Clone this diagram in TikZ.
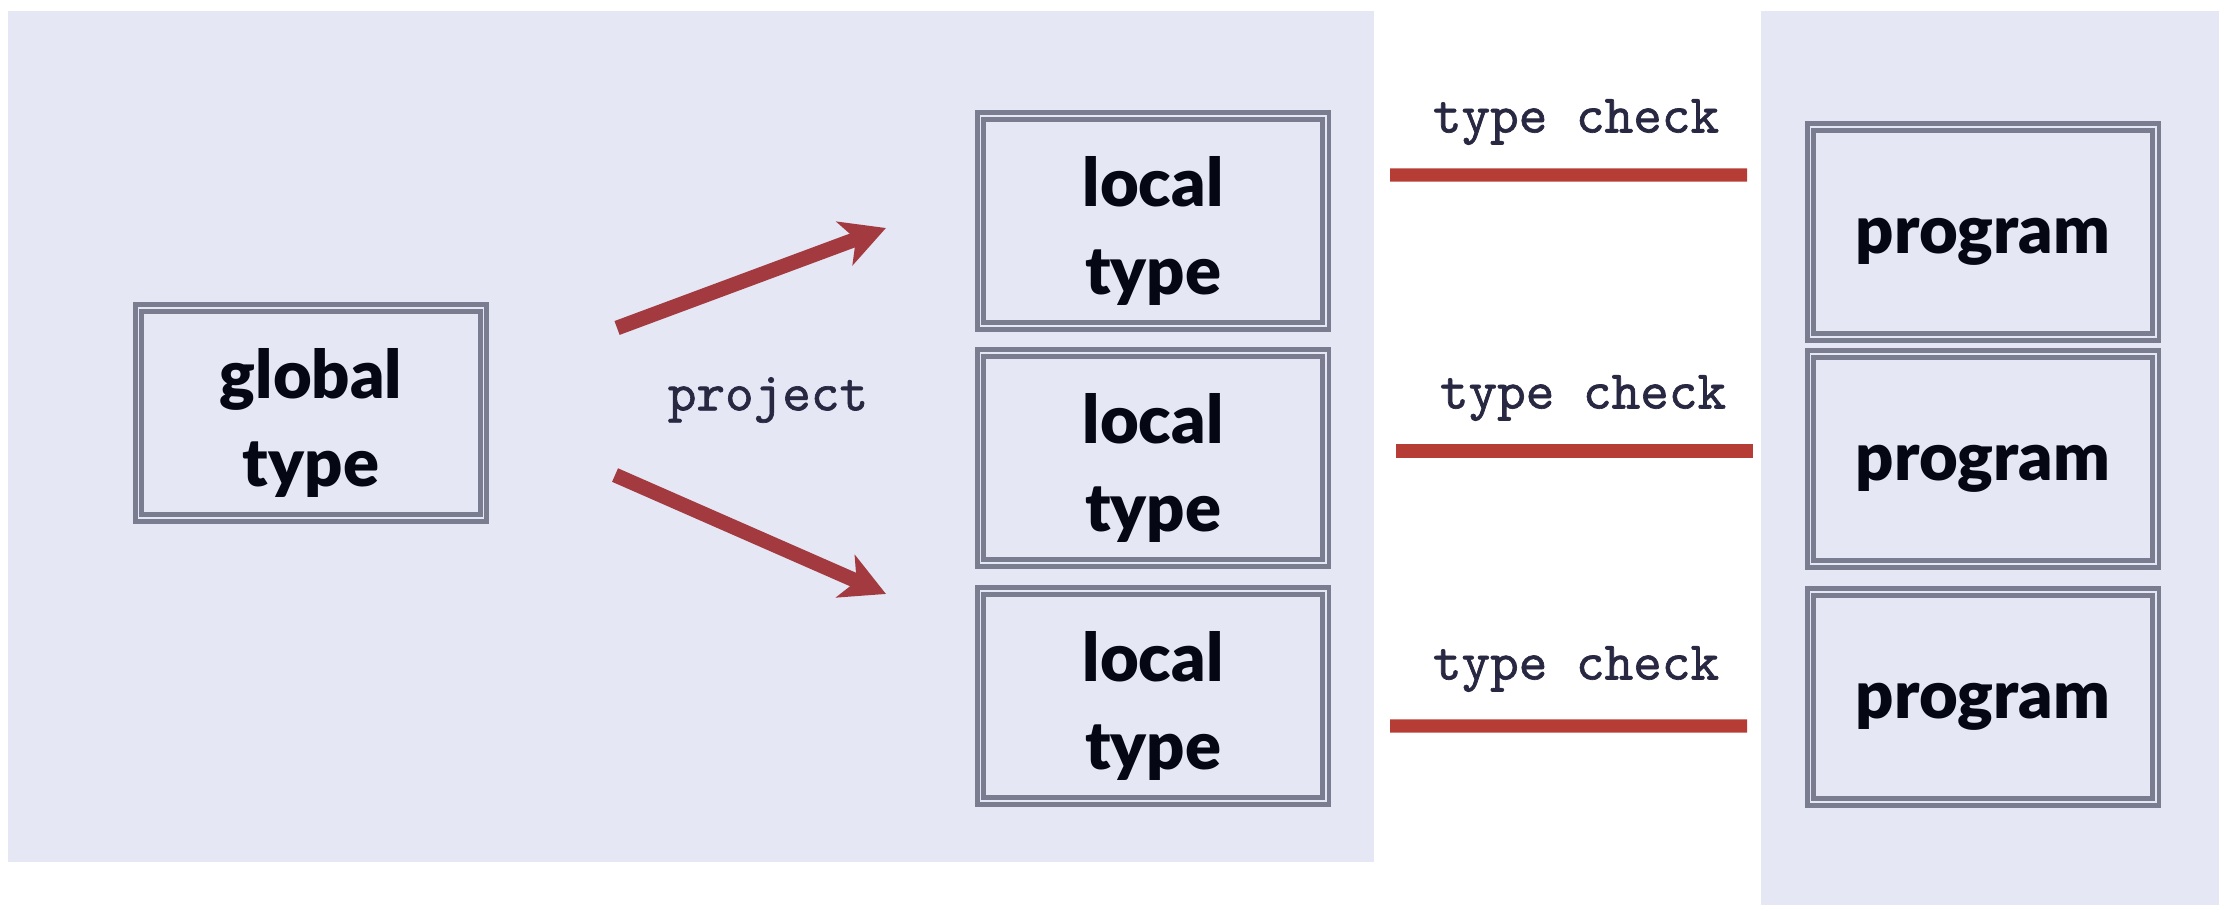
\documentclass[tikz,border=0pt]{standalone}
\usepackage{fontspec}
\setmainfont{Lato}[BoldFont={Lato Black}]
\newfontfamily\chkmono{lmmono10-regular.otf}[FakeBold=1.2]
\usepackage{tikz}
\usetikzlibrary{arrows.meta}

\definecolor{panelbg}{RGB}{229,231,244}
\definecolor{framegray}{RGB}{122,124,144}
\definecolor{checkred}{RGB}{181,61,53}
\definecolor{projred}{RGB}{163,58,64}
\definecolor{monoink}{RGB}{40,40,66}
\definecolor{boldink}{RGB}{5,8,20}

\begin{document}
\begin{tikzpicture}[x=0.01cm, y=-0.01cm,
    boxtext/.style={align=center, text=boldink, yshift=-0.1cm,
      font=\fontsize{19}{25}\selectfont\bfseries},
    typebox/.style={draw=framegray, line width=1.35pt, double=panelbg, double distance=0.5pt,
      minimum width=3.45cm, minimum height=2.1cm, label={[boxtext]center:#1}},
    monolabel/.style={text=monoink, font=\fontsize{15.5}{18}\selectfont\chkmono},
    projarrow/.style={draw=projred, line width=4.2pt,
      -{Stealth[length=0.44cm, width=0.46cm, inset=0.12cm]}},
    checkline/.style={draw=checkred, line width=3.8pt}]
      \useasboundingbox (0,0) rectangle (2219,905);

      % panels
      \fill[panelbg] (8,11) rectangle (1374,862);
      \fill[panelbg] (1761,11) rectangle (2219,905);

      \node[typebox={global\\type}] (glob) at (311,413) {};

      \node[typebox={local\\type}] (loc1) at (1153,221) {};
      \node[typebox={local\\type}] (loc2) at (1153,458) {};
      \node[typebox={local\\type}] (loc3) at (1153,696) {};

      \node[typebox=program] (prog1) at (1983,232) {};
      \node[typebox=program] (prog2) at (1983,459) {};
      \node[typebox=program] (prog3) at (1983,697) {};

      \node[monolabel] (proj) at (768,400) {project};
      \draw[projarrow] ([xshift=1.31cm, yshift=0.85cm]glob.east) -- ([xshift=-0.92cm, yshift=-0.07cm]loc1.west);
      \draw[projarrow] ([xshift=1.29cm, yshift=-0.62cm]glob.east) -- ([xshift=-0.92cm, yshift=1.02cm]loc3.west);

      \node[monolabel] (chk1) at (1576,122) {type check};
      \node[monolabel] (chk2) at (1583,398) {type check};
      \node[monolabel] (chk3) at (1576,669) {type check};
      \draw[checkline] ([xshift=0.62cm, yshift=0.46cm]loc1.east) -- ([xshift=-0.61cm, yshift=0.57cm]prog1.west);
      \draw[checkline] ([xshift=0.68cm, yshift=0.07cm]loc2.east) -- ([xshift=-0.55cm, yshift=0.08cm]prog2.west);
      \draw[checkline] ([xshift=0.62cm, yshift=-0.30cm]loc3.east) -- ([xshift=-0.61cm, yshift=-0.29cm]prog3.west);
    \end{tikzpicture}
\end{document}
